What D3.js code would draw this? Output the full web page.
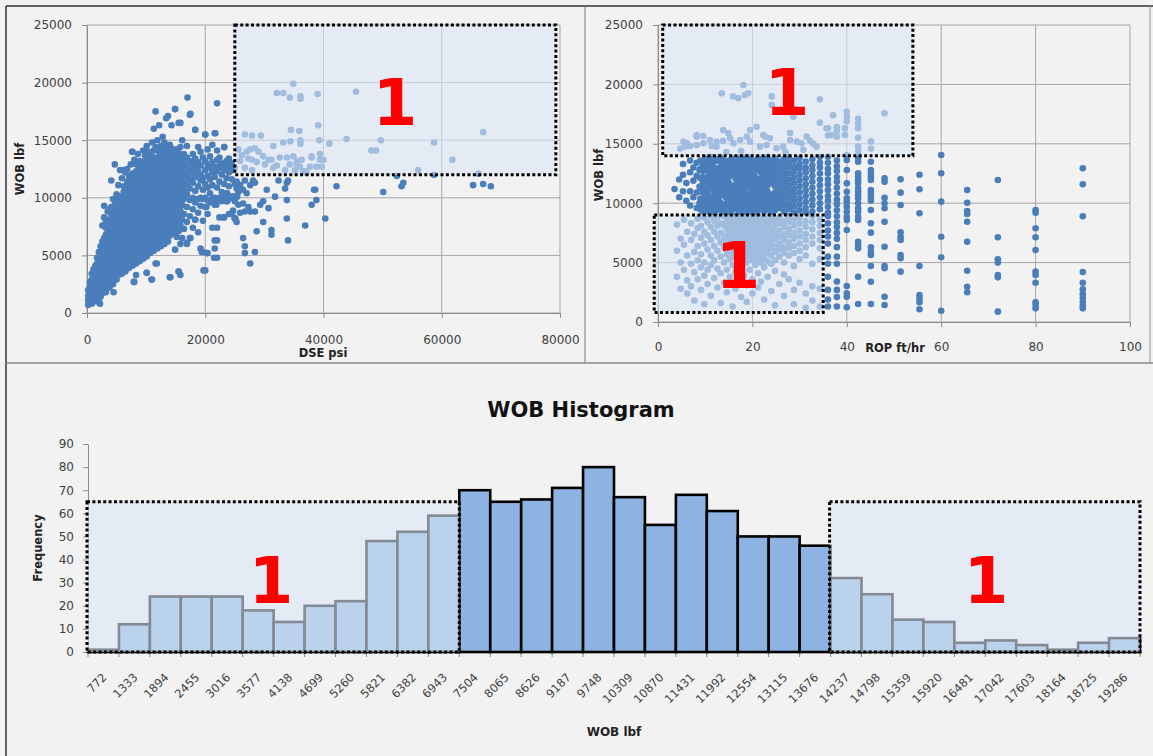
<!DOCTYPE html>
<html><head><meta charset="utf-8">
<script src="https://cdn.jsdelivr.net/npm/d3@7"></script>
<style>
body{margin:0;background:#f2f2f2}
svg{display:block}
</style>
</head><body>
<svg id="chart" width="1153" height="756"></svg>
<script>
// ---------------- DATA ----------------
const wobTicks = [0, 5000, 10000, 15000, 20000, 25000];
const dseTicks = [0, 20000, 40000, 60000, 80000];
const ropTicks = [0, 20, 40, 60, 80, 100];
const freqTicks = [0, 10, 20, 30, 40, 50, 60, 70, 80, 90];

const histBins = ["772","1333","1894","2455","3016","3577","4138","4699","5260","5821","6382","6943",
  "7504","8065","8626","9187","9748","10309","10870","11431","11992","12554","13115","13676",
  "14237","14798","15359","15920","16481","17042","17603","18164","18725","19286"];
const histFreq = [1,12,24,24,24,18,13,20,22,48,52,59,70,65,66,71,80,67,55,68,61,50,50,46,32,25,14,13,4,5,3,1,4,6];

// DSE vs WOB scatter, values in thousands (DSE kpsi, [WOB klbf ...])
const dseWobCols = [
[0.2,[0.7,1.1,1.5,2.0]],[0.5,[0.9,1.3,1.8,2.4,2.7]],[0.8,[0.8,1.2,1.6,2.2,2.9,3.4]],
[1.1,[1.0,1.4,1.9,2.5,3.1,3.8]],[1.4,[1.1,1.6,2.1,2.6,3.3,3.6,4.1]],[1.7,[1.0,1.8,2.3,2.9,3.5,4.3,4.8]],
[2.0,[1.2,2.0,2.7,3.2,3.9,4.6,5.3]],[2.3,[1.4,2.2,2.9,3.5,4.2,4.9,5.8]],[2.6,[1.7,2.5,3.1,3.7,4.4,5.2,6.2,7.6]],
[2.9,[2.0,2.6,3.4,4.0,4.7,5.5,6.5,8.3,9.3]],[3.2,[1.8,2.8,3.6,4.3,5.1,5.9,6.8,7.4,8.0]],
[3.5,[2.4,3.0,3.8,4.6,5.4,6.2,7.1,7.9,8.8]],[3.8,[2.2,3.2,4.1,4.9,5.7,6.5,7.3,8.1,9.0]],
[4.1,[2.7,3.5,4.4,5.2,6.0,6.8,7.6,8.4,9.2,11.5]],[4.4,[2.5,3.7,4.6,5.5,6.3,7.0,7.8,8.6,9.9]],
[4.7,[3.1,4.0,4.9,5.8,6.6,7.3,8.1,8.9,9.4,12.9]],[5.0,[2.9,3.6,4.5,5.3,6.1,6.9,7.7,8.4,9.2,10.3]],
[5.3,[3.3,4.2,5.0,5.9,6.7,7.4,8.2,9.0,9.8,11.1]],[5.6,[3.8,4.7,5.6,6.3,7.1,7.9,8.7,9.5,10.1,12.4]],
[5.9,[3.4,4.4,5.2,6.0,6.8,7.6,8.4,9.2,10.1,11.7]],[6.2,[4.0,4.9,5.7,6.5,7.3,8.0,8.8,9.6,10.5,11.0,12.4]],
[6.5,[3.6,4.5,5.4,6.2,7.0,7.8,8.5,9.3,10.0,10.9,12.2]],[6.8,[4.2,5.1,5.9,6.7,7.5,8.3,9.0,9.8,10.6,11.4,12.5]],
[7.1,[3.9,4.8,5.6,6.4,7.2,8.0,8.7,9.5,10.3,11.1,11.9]],[7.4,[4.4,5.3,6.1,6.9,7.7,8.5,9.2,10.0,10.8,11.6,12.9]],
[7.7,[4.1,5.0,5.8,6.6,7.4,8.2,8.9,9.7,10.5,11.3,12.1,14.0]],[8.0,[2.7,4.6,5.5,6.3,7.1,7.9,8.7,9.5,10.2,11.0,11.8,13.3]],
[8.3,[3.3,4.3,5.2,6.0,6.8,7.6,8.4,9.1,9.9,10.7,11.5,12.3,12.9]],[8.6,[4.8,5.7,6.5,7.3,8.1,8.9,9.6,10.4,11.2,12.0,13.8]],
[8.9,[4.5,5.4,6.2,7.0,7.8,8.6,9.3,10.1,10.9,11.7,12.5,13.2]],[9.2,[5.0,5.9,6.7,7.5,8.3,9.1,9.8,10.6,11.4,12.2,13.0]],
[9.5,[4.7,5.6,6.4,7.2,8.0,8.8,9.5,10.3,11.1,11.9,12.7,14.1]],[9.8,[5.3,6.1,6.9,7.7,8.5,9.3,10.0,10.8,11.6,12.4,13.2,13.7]],
[10.1,[3.5,4.9,5.8,6.6,7.4,8.2,9.0,9.7,10.5,11.3,12.1,12.9,14.5]],[10.4,[5.5,6.3,7.1,7.9,8.7,9.4,10.2,11.0,11.8,12.6,13.4,14.0]],
[10.7,[5.2,6.0,6.8,7.6,8.4,9.2,9.9,10.7,11.5,12.3,13.1,13.9]],[11.0,[2.9,5.7,6.5,7.3,8.1,8.9,9.6,10.4,11.2,12.0,12.8,13.6,14.8]],
[11.3,[5.4,6.2,7.0,7.8,8.6,9.4,10.1,10.9,11.7,12.5,13.3,14.1,16.0]],[11.6,[4.3,5.9,6.7,7.5,8.3,9.1,9.8,10.6,11.4,12.2,13.0,14.4,17.5]],
[11.9,[5.6,6.4,7.2,8.0,8.8,9.5,10.3,11.1,11.9,12.7,13.5,14.3,15.0]],[12.2,[6.1,6.9,7.7,8.5,9.3,10.0,10.8,11.6,12.4,13.2,14.0,16.3]],
[12.5,[5.8,6.6,7.4,8.2,9.0,9.7,10.5,11.3,12.1,12.9,13.7,14.5]],[12.8,[6.3,7.1,7.9,8.7,9.4,10.2,11.0,11.8,12.6,13.4,14.2,15.3]],
[13.1,[6.0,6.8,7.6,8.4,9.2,9.9,10.7,11.5,12.3,13.1,13.9,14.8]],[13.4,[6.5,7.3,8.1,8.9,9.6,10.4,11.2,12.0,12.8,13.6,14.4,16.9]],
[13.7,[6.2,7.0,7.8,8.6,9.4,10.1,10.9,11.7,12.5,13.3,14.1,17.1]],[14.0,[3.1,6.7,7.5,8.3,9.1,9.9,10.6,11.4,12.2,13.0,13.8,14.6]],
[14.3,[7.2,8.0,8.8,9.6,10.3,11.1,11.9,12.7,13.5,14.3,16.3]],[14.6,[6.9,7.7,8.5,9.3,10.1,10.8,11.6,12.4,13.2,14.0]],
[14.9,[5.5,7.4,8.2,9.0,9.8,10.5,11.3,12.1,12.9,13.7,17.7]],[15.2,[6.6,7.9,8.7,9.5,10.2,11.0,11.8,12.6,13.4,14.2]],
[15.5,[3.6,7.1,8.4,9.2,10.0,10.7,11.5,12.3,13.1,13.9,16.5]],[15.8,[3.3,6.0,7.6,8.9,9.7,10.4,11.2,12.0,12.8,13.6,14.4]],
[16.1,[6.5,8.1,9.4,10.1,10.9,11.7,12.5,13.3,15.0]],[16.4,[7.3,8.6,9.9,10.6,11.4,12.2,13.0,13.8]],
[16.9,[6.1,7.9,9.2,10.3,11.1,11.9,12.7,13.5,14.5]],[17.4,[6.5,8.4,9.8,10.8,11.6,12.4,13.2,17.2]],
[17.9,[7.4,9.0,10.0,11.3,12.1,12.9,13.8]],[18.3,[8.1,9.6,10.6,11.8,12.6,13.4,15.9]],
[18.8,[7.0,8.7,9.9,11.0,12.3,13.1,14.4]],[19.2,[5.6,9.3,10.0,11.5,12.0,12.8,14.0]],
[19.6,[5.3,8.0,9.9,10.7,11.7,13.5]],[20.0,[3.7,9.2,10.0,11.2,12.4,13.2,15.5]],
[20.4,[5.2,8.6,9.8,10.9,11.9,12.9,14.2]],[20.8,[9.6,10.4,11.6,12.6,13.6]],
[21.2,[7.4,9.9,11.1,12.2,13.1,14.6]],[21.6,[5.6,6.3,9.4,10.0,11.8,12.7,15.6]],
[22.0,[4.8,9.8,10.9,12.3,13.3,14.1,18.2]],[22.4,[8.3,10.0,11.4,12.8,13.5]],
[22.8,[9.7,10.5,12.0,12.6,13.0]],[23.2,[8.3,10.0,11.2,12.4,12.9,14.4]],
[23.6,[9.7,10.4,11.7,12.6,13.2]],[24.0,[8.6,9.9,11.0,12.2,12.8,13.4]],
[24.5,[8.6,10.1,11.6,12.4,13.0]],[25.0,[8.2,10.1,11.2,12.6]]
];
// DSE vs WOB scattered points, thousands [DSE, WOB]
const dseWobPoints = [
[17.0,18.7],[14.9,17.7],[17.5,17.3],[15.8,16.5],[21.7,15.6],[7.6,14.0],[2.2,0.8],[4.5,1.8],[7.9,2.7],[10.9,2.9],
[14.1,3.1],[15.5,3.6],[11.8,4.3],[10.1,3.5],[19.7,3.7],[20.3,5.2],[21.5,4.8],[22.0,6.3],[19.4,5.3],[16.9,6.0],
[17.5,6.5],[18.3,8.1],[20.2,9.2],[22.0,7.4],[23.1,8.3],[24.5,8.6],[25.1,8.2],[21.9,9.4],[23.7,9.7],[25.4,10.1],
[23.7,10.4],[25.9,11.1],[23.2,14.4],[20.0,15.5],[18.3,15.9],
[25.3,11.4],[26.7,11.5],[28.1,11.5],[28.4,11.3],[27.6,11.1],[25.3,10.8],[25.6,10.5],[26.4,10.7],[27.0,10.4],
[24.7,10.1],[25.0,9.7],[25.6,9.4],[26.4,9.5],[27.3,9.2],[26.7,8.8],[25.9,8.7],[24.7,8.9],[25.0,8.2],[25.3,7.9],
[27.6,8.8],[28.4,8.8],[29.3,9.4],[29.8,9.7],[30.4,10.7],[32.4,11.5],[34.0,11.5],[33.8,11.3],[31.8,10.1],[30.7,9.1],
[29.8,7.9],[28.7,7.1],[31.2,7.2],[31.2,6.8],[26.4,6.5],[26.7,5.8],[26.7,5.2],[28.4,5.3],[27.6,4.3],[33.8,9.8],
[33.8,8.2],[34.0,6.3],[36.9,7.6],[38.0,9.4],[38.6,10.7],[38.8,9.8],[40.3,8.2],[42.2,11.0],[50.1,10.5],[52.4,11.9],
[53.2,11.0],[53.5,11.3],[65.3,11.1],[67.0,11.2],[68.3,11.0],[33.5,10.8],[38.4,10.7],
[34.9,19.9],[32.1,19.1],[33.2,19.1],[34.3,18.7],[36.1,18.8],[36.1,18.6],[39.0,19.0],[45.5,19.2],[39.1,16.3],[34.5,15.9],
[35.9,15.8],[26.7,15.5],[27.9,15.4],[29.4,15.4],[31.5,14.5],[33.2,14.8],[34.4,14.9],[36.1,15.0],[36.1,14.7],[39.3,15.0],
[41.0,14.7],[43.9,15.1],[49.7,15.0],[48.1,14.1],[48.9,14.1],[56.0,12.4],[25.6,14.2],[26.2,13.7],[27.0,14.0],[27.6,14.2],
[28.4,14.3],[29.0,14.0],[29.8,13.6],[30.7,13.3],[31.2,13.3],[32.6,13.5],[33.8,13.5],[34.9,13.6],[35.5,13.2],[36.3,13.3],
[38.0,13.5],[39.4,13.8],[39.4,13.3],[25.9,13.2],[27.3,13.4],[27.9,13.3],[28.7,13.1],[30.1,12.9],[32.1,12.8],[34.3,12.9],
[35.5,12.9],[36.0,12.7],[36.9,12.3],[37.7,12.7],[38.8,12.7],[39.7,12.7],[26.7,12.6],[27.9,12.4],[31.5,12.6],[33.5,12.4],
[35.2,12.4],[58.7,12.0],[61.8,13.3],[67.0,15.7],[58.7,14.8],[66.2,12.1],[36.6,12.3],[37.1,12.2],[38.0,13.6],[40.0,13.3]
];

// ROP vs WOB scatter: [ROP ft/hr, [WOB klbf ...]]
const ropWobCols = [
// main band
[3.5,[11.2]],[4.5,[10.5,12.0]],[5.3,[11.0,12.4,13.3]],[6.0,[10.2,11.7]],[6.8,[9.8,11.0,12.6,13.6]],
[7.5,[10.5,11.9,13.0]],[8.2,[9.6,10.9,12.3,13.4]],[8.8,[10.0,11.4,12.8]],
[9.0,[9.5,10.4,11.3,12.1,12.9,13.6]],[9.5,[9.3,9.8,10.3,10.9,11.7,12.2,12.7,13.3]],
[10.1,[9.6,10.1,10.6,11.1,11.5,12.0,12.9,13.4,13.8]],[10.7,[9.3,9.8,10.3,10.7,11.2,11.7,12.2,12.6,13.1,13.6]],
[11.3,[9.5,10.0,10.5,11.4,11.9,12.4,12.8,13.3,13.9]],[11.9,[9.2,9.7,10.2,10.7,11.1,11.6,12.1,12.6,13.0,13.5]],
[12.5,[9.4,9.9,10.4,10.9,11.4,11.9,12.3,12.8,13.7]],[13.1,[9.6,10.1,10.6,11.1,11.6,12.1,12.6,13.0,13.5,13.9]],
[13.7,[9.3,9.8,10.8,11.3,11.8,12.3,12.8,13.2,13.7]],[14.4,[9.5,10.0,10.5,11.0,11.5,12.0,12.5,12.9,13.4]],
[15.0,[9.2,9.7,10.2,10.7,11.2,11.7,12.2,12.7,13.1,13.6]],[15.7,[9.4,9.9,10.4,10.9,11.4,12.4,12.9,13.3,13.8]],
[16.4,[9.6,10.1,10.6,11.1,11.6,12.1,12.6,13.0,13.5]],[17.1,[9.3,9.8,10.3,10.8,11.3,11.8,12.3,12.8,13.2,13.7]],
[17.6,[9.5,10.0,10.5,11.0,12.0,12.5,13.0,13.4,13.9]],[18.0,[9.2,9.7,10.2,10.7,11.2,11.7,12.2,12.7,13.1,13.6]],
[18.5,[9.4,9.9,10.4,10.9,11.4,11.9,12.4,12.9,13.3]],[18.9,[9.6,10.1,10.6,11.6,12.1,12.6,13.1,13.5,13.9]],
[19.5,[9.3,9.8,10.3,10.8,11.3,11.8,12.3,12.8,13.2,13.7]],[20.0,[9.5,10.0,10.5,11.0,11.5,12.0,12.5,13.0,13.4]],
[20.6,[9.2,9.7,10.2,10.7,11.2,11.7,12.2,12.7,13.1,13.6]],[21.2,[9.4,9.9,10.4,10.9,11.4,11.9,12.9,13.3,13.8]],
[21.8,[9.6,10.1,10.6,11.1,11.6,12.1,12.6,13.0,13.5]],[22.5,[9.3,9.8,10.3,10.8,11.3,11.8,12.3,12.8,13.2,13.7]],
[23.2,[9.5,10.0,10.5,11.0,11.5,12.0,12.5,13.0,13.4,13.9]],[24.0,[9.2,9.7,10.2,10.7,11.7,12.2,12.7,13.1,13.6]],
[24.8,[9.4,9.9,10.4,10.9,11.4,11.9,12.4,12.9,13.3,13.8]],[25.7,[9.6,10.1,10.6,11.1,11.6,12.1,12.6,13.0,13.5]],
[26.7,[9.3,9.8,10.3,10.8,11.3,11.8,12.3,12.8,13.2,13.7]],[27.7,[9.5,10.0,10.5,11.0,11.5,12.0,12.5,13.0,13.4,13.9]],
[28.8,[9.2,9.7,10.2,10.7,11.2,11.7,12.2,12.7,13.1,13.6]],[30.0,[9.4,9.9,10.4,10.9,11.4,11.9,12.4,12.9,13.3,13.8]],
[31.3,[9.2,9.6,10.1,10.6,11.1,11.6,12.1,12.6,13.0,13.5]],[32.7,[9.3,9.8,10.3,10.8,11.3,11.8,12.3,12.8,13.2,13.7]],
[34.3,[9.5,10.0,10.5,11.0,11.5,12.0,12.5,13.0,13.4,13.9]],
[36.0,[9.2,9.7,10.2,10.6,11.1,11.6,12.0,12.5,12.9,13.4,13.9,8.9,8.3,7.7,7.2,6.6,5.5,4.9,3.8,2.7,1.9,1.3,16.3,15.7]],
[37.9,[9.4,9.9,10.3,10.8,11.3,11.8,12.2,12.7,13.1,13.6,8.9,8.4,8.0,7.5,7.0,6.3,5.5,4.9,3.4,2.7,2.1,1.3,16.4,16.1,15.6]],
// discrete high-ROP columns
[40.0,[14.06,13.64,12.79,11.67,10.97,10.41,10.13,9.71,9.29,8.86,8.59,7.74,3.03,2.42,2.13,1.24,17.7,17.3,16.9]],
[42.4,[14.76,14.34,13.78,13.49,12.52,12.23,11.95,11.67,11.25,10.97,10.69,10.41,9.99,9.57,9.29,8.86,8.59,6.76,6.48,6.2,3.81,1.52,17.1,16.7,16.3,15.5]],
[45.1,[13.49,12.79,12.52,12.23,11.95,11.11,10.83,10.49,10.21,9.43,8.31,7.52,6.29,5.92,5.64,4.71,3.39,1.52,15.2,14.6]],
[48.0,[12.1,11.81,10.46,9.99,9.57,8.44,6.34,4.71,4.52,2.13,1.43,17.57]],
[51.4,[12.01,10.89,9.85,7.55,7.18,6.9,5.64,5.36,4.24]],
[55.4,[12.4,11.17,9.15,4.71,2.27,2.0,1.66,1.07]],
[60.0,[14.06,12.52,10.13,7.18,5.45,0.95]],
[65.5,[11.11,10.04,9.34,9.09,8.44,6.76,4.32,2.97,2.5]],
[72.0,[11.95,7.13,5.28,5.0,3.96,3.76,0.87]],
[80.0,[9.43,9.2,7.89,7.13,6.06,4.24,3.96,3.31,1.66,1.43,1.15]],
[90.0,[12.94,11.59,8.9,4.21,3.31,2.75,2.36,2.04,1.71,1.37,1.15]],
// low-WOB region
[4.0,[8.2,6.0,3.8]],[4.8,[7.0,5.0,2.8]],[5.5,[8.6,6.5,4.4]],[6.2,[7.6,5.6,3.5,2.4]],[7.0,[8.3,6.9,4.9,3.0]],
[7.7,[7.4,5.9,4.2,1.8]],[8.4,[8.7,7.9,6.4,5.2,3.6]],[9.1,[8.1,7.1,5.7,4.6,2.7]],[9.8,[8.8,7.6,6.6,5.0,3.9,1.5]],
[10.5,[8.4,7.3,6.1,4.4,3.2]],[11.2,[8.9,8.0,6.9,5.6,4.8,2.2]],[11.9,[8.5,7.6,6.4,5.2,3.7]],
[12.6,[8.8,8.1,7.2,6.0,4.5,2.9]],[13.3,[8.3,7.5,6.7,5.5,4.1,1.6]],[14.0,[8.9,8.1,7.0,6.3,5.0,3.3]],
[14.6,[8.5,7.8,7.3,6.6,5.7,4.4,2.5]],[15.2,[8.8,8.2,7.6,6.9,6.1,5.3,3.8]],[15.8,[8.4,7.9,7.2,6.5,5.8,4.8,1.3]],
[16.4,[8.9,8.3,7.7,7.0,6.3,5.5,4.2,2.8]],[17.0,[8.6,8.0,7.4,6.7,6.0,5.1,3.5]],[17.6,[8.8,8.2,7.6,7.1,6.4,5.7,4.6,2.1]],
[18.2,[8.5,7.9,7.3,6.8,6.1,5.4,3.9]],[18.8,[8.9,8.3,7.7,7.1,6.5,5.8,5.0,3.1,1.7]],[19.4,[8.6,8.0,7.4,6.9,6.2,5.5,4.4]],
[20.0,[8.8,8.2,7.7,7.1,6.6,5.9,5.2,3.6,2.4]],[20.6,[8.5,7.9,7.4,6.8,6.3,5.6,4.8]],[21.2,[8.9,8.3,7.8,7.2,6.7,6.0,5.3,4.1,2.9]],
[21.8,[8.6,8.1,7.5,7.0,6.4,5.7,5.0,3.4]],[22.5,[8.8,8.3,7.7,7.2,6.6,6.1,5.4,4.6,1.9]],[23.2,[8.5,8.0,7.4,6.9,6.3,5.8,5.1,3.8]],
[24.0,[8.9,8.4,7.8,7.3,6.7,6.2,5.6,4.9,2.6]],[24.8,[8.6,8.1,7.5,7.0,6.4,5.9,5.2,4.3,1.4]],[25.7,[8.8,8.3,7.7,7.2,6.6,6.1,5.5,3.2]],
[26.7,[8.5,8.0,7.4,6.9,6.3,5.8,5.0,4.0,2.2]],[27.7,[8.9,8.4,7.8,7.3,6.7,6.2,5.6,3.6]],[28.8,[8.6,8.1,7.5,7.0,6.4,5.8,4.7,2.7,1.5]],
[30.0,[8.8,8.3,7.7,7.2,6.6,6.0,5.3,3.3]],[31.3,[8.5,8.0,7.4,6.9,6.3,5.6,2.4,1.2]],[32.7,[8.9,8.4,7.8,7.2,6.6,4.9,3.0,1.8]],
[34.3,[8.6,8.1,7.5,6.9,6.2,5.3,2.8,1.3]]
];
// high-WOB scattered points [ROP, WOB klbf]
const ropWobPoints = [
[18.1,19.95],[13.5,19.25],[15.9,18.99],[17.0,18.83],[18.4,19.1],[19.1,19.25],[24.1,18.99],[24.1,18.26],[34.3,18.74],
[28.7,17.28],[34.3,16.78],[36.8,15.74],[39.6,16.3],[39.6,15.74],[8.2,15.74],[9.6,15.66],[5.4,15.18],[6.1,15.04],
[11.0,15.32],[12.4,15.18],[13.8,15.26],[15.3,15.46],[16.0,15.04],[17.4,15.32],[18.8,15.6],[19.5,15.18],[22.7,15.6],
[23.7,15.46],[28.0,15.32],[29.4,15.18],[30.4,15.04],[32.2,15.26],[14.9,15.88],[13.8,16.16],[19.5,16.16],[20.9,16.44],
[5.7,14.76],[6.8,14.82],[8.2,14.9],[9.6,15.04],[11.4,14.82],[12.4,14.76],[21.6,14.76],[23.0,14.9],[25.1,14.62],
[26.5,14.76],[37.1,17.4],[35.7,16.3],[8.2,15.6],[28.0,15.9],[31.5,15.6],[32.9,15.0],[33.6,14.76],[22.3,15.74],
[4.7,14.6],[17.6,14.4],[27.0,14.3],[30.8,14.5],[14.5,14.3]
];

// highlighted regions ("1")
const dseRegion = {x0: 25000, x1: 79300, y0: 12000, y1: 25000};
const ropRegions = [{x0: 1, x1: 54, y0: 14000, y1: 25000}, {x0: -0.8, x1: 35, y0: 800, y1: 9000}];
const histRegions = [{from: "772", to: "6943", top: 65}, {from: "14237", to: "19286", top: 65}];

// ---------------- DRAWING ----------------
const svg = d3.select("#chart");
const FONT = "DejaVu Sans, sans-serif";
const PT = "#4a7ebb", OVER = "#dae6f5", OVER_OP = 0.6;

// panel frames
const frame = svg.append("g").attr("fill", "none");
frame.append("line").attr("x1",6).attr("y1",6).attr("x2",1153).attr("y2",6).attr("stroke","#333").attr("stroke-width",1.5);
frame.append("line").attr("x1",6).attr("y1",6).attr("x2",6).attr("y2",756).attr("stroke","#333").attr("stroke-width",1.5);
frame.append("line").attr("x1",585).attr("y1",6).attr("x2",585).attr("y2",363).attr("stroke","#777");
frame.append("line").attr("x1",1150).attr("y1",6).attr("x2",1150).attr("y2",363).attr("stroke","#999");
frame.append("line").attr("x1",6).attr("y1",363).attr("x2",1153).attr("y2",363).attr("stroke","#888").attr("stroke-width",1.5);

function styleAxis(sel, size) {
  sel.attr("font-family", null).attr("font-size", null);
  sel.select(".domain").attr("stroke", "#8c8c8c");
  sel.selectAll(".tick line").attr("stroke", "#8c8c8c");
  sel.selectAll(".tick text").attr("fill", "#404040").style("font-family", FONT).style("font-size", size + "px");
}

function bigOne(g, cx, baseY) {
  g.append("text").attr("x", cx).attr("y", baseY).attr("text-anchor", "middle")
    .style("font-family", "DejaVu Sans, sans-serif").style("font-weight", "bold").style("font-size", "64px")
    .attr("fill", "#ff0000").text("1");
}

function region(g, x0, x1, y0, y1) {
  g.append("rect").attr("x", x0).attr("y", y0).attr("width", x1 - x0).attr("height", y1 - y0)
    .attr("fill", OVER).attr("fill-opacity", OVER_OP);
  g.append("rect").attr("x", x0).attr("y", y0).attr("width", x1 - x0).attr("height", y1 - y0)
    .attr("fill", "none").attr("stroke", "#000").attr("stroke-width", 3).attr("stroke-dasharray", "3,2.4");
}

function scatter(o) {
  const g = svg.append("g");
  const x = d3.scaleLinear().domain(o.xDomain).range(o.xRange);
  const y = d3.scaleLinear().domain([0, 25000]).range(o.yRange);
  g.append("g").selectAll("line").data(o.xTicks).join("line")
    .attr("x1", d => x(d)).attr("x2", d => x(d)).attr("y1", y(0)).attr("y2", y(25000))
    .attr("stroke", "#a6a6a6");
  g.append("g").selectAll("line").data(wobTicks).join("line")
    .attr("x1", x(o.xDomain[0])).attr("x2", x(o.xDomain[1])).attr("y1", d => y(d)).attr("y2", d => y(d))
    .attr("stroke", "#a6a6a6");
  g.append("g").attr("transform", `translate(0,${y(0)})`)
    .call(d3.axisBottom(x).tickValues(o.xTicks).tickSizeInner(5).tickSizeOuter(0).tickPadding(o.xPad).tickFormat(d3.format("d")))
    .call(s => styleAxis(s, 12));
  g.append("g").attr("transform", `translate(${x(0)},0)`)
    .call(d3.axisLeft(y).tickValues(wobTicks).tickSizeInner(5).tickSizeOuter(0).tickPadding(10).tickFormat(d3.format("d")))
    .call(s => styleAxis(s, 12));
  g.append("g").selectAll("circle").data(o.points).join("circle")
    .attr("cx", d => x(d[0])).attr("cy", d => y(d[1])).attr("r", 3.3).attr("fill", PT);
  o.regions.forEach(r => region(g, x(r.x0), x(r.x1), y(r.y1), y(r.y0)));
  o.ones.forEach(p => bigOne(g, p[0], p[1]));
  g.append("text").attr("x", o.xTitle[0]).attr("y", o.xTitle[1]).attr("text-anchor", "middle")
    .style("font-family", FONT).style("font-weight", "bold").style("font-size", "11.5px").attr("fill", "#222").text(o.xLabel);
  g.append("text").attr("transform", `translate(${o.yTitle[0]},${o.yTitle[1]}) rotate(-90)`).attr("text-anchor", "middle")
    .style("font-family", FONT).style("font-weight", "bold").style("font-size", "11.5px").attr("fill", "#222").text("WOB lbf");
}

const leftPts = dseWobCols.flatMap(([xv, ys]) => ys.map(v => [xv * 1000, v * 1000]))
  .concat(dseWobPoints.map(([a, b]) => [a * 1000, b * 1000]));
scatter({
  xDomain: [0, 80000], xRange: [87, 560], yRange: [313, 25], xTicks: dseTicks, xPad: 17,
  points: leftPts, regions: [dseRegion], ones: [[395, 125]],
  xLabel: "DSE psi", xTitle: [323, 357], yTitle: [24, 169]
});

const rightPts = ropWobCols.flatMap(([xv, ys]) => ys.map(v => [xv, v * 1000]))
  .concat(ropWobPoints.map(([a, b]) => [a, b * 1000]));
scatter({
  xDomain: [0, 100], xRange: [658, 1130], yRange: [322, 25], xTicks: ropTicks, xPad: 15,
  points: rightPts, regions: ropRegions, ones: [[787, 115], [738, 288]],
  xLabel: "ROP ft/hr", xTitle: [895, 352], yTitle: [603, 175]
});

// ---------------- HISTOGRAM ----------------
(function () {
  const g = svg.append("g");
  const x = d3.scaleBand().domain(histBins).range([88, 1140]).padding(0);
  const y = d3.scaleLinear().domain([0, 90]).range([652, 444]);
  const bw = x.bandwidth();
  g.append("text").attr("x", 581).attr("y", 417).attr("text-anchor", "middle")
    .style("font-family", FONT).style("font-weight", "bold").style("font-size", "21px").attr("fill", "#111")
    .text("WOB Histogram");
  const ya = g.append("g").attr("transform", "translate(88,0)")
    .call(d3.axisLeft(y).tickValues(freqTicks).tickSizeInner(5).tickSizeOuter(0).tickPadding(9));
  styleAxis(ya, 12);
  g.append("line").attr("x1", 88).attr("x2", 1140).attr("y1", 652).attr("y2", 652).attr("stroke", "#8c8c8c");
  g.append("g").selectAll("line").data(histBins.concat(["__end"])).join("line")
    .attr("x1", (d, i) => 88 + i * bw).attr("x2", (d, i) => 88 + i * bw)
    .attr("y1", 652).attr("y2", 657).attr("stroke", "#8c8c8c");
  g.append("g").selectAll("rect").data(histBins).join("rect")
    .attr("x", d => x(d)).attr("width", bw)
    .attr("y", (d, i) => y(histFreq[i])).attr("height", (d, i) => y(0) - y(histFreq[i]))
    .attr("fill", "#8db3e2").attr("stroke", "#000").attr("stroke-width", 2.6);
  g.append("g").selectAll("text").data(histBins).join("text")
    .attr("transform", d => `translate(${x(d) + bw / 2 + 4},678) rotate(-45)`)
    .attr("text-anchor", "end").style("font-family", FONT).style("font-size", "11.5px").attr("fill", "#404040")
    .text(d => d);
  histRegions.forEach(r => region(g, x(r.from) - 1, x(r.to) + bw, y(r.top), y(0)));
  bigOne(g, 271, 603);
  bigOne(g, 986, 603);
  g.append("text").attr("x", 614).attr("y", 736).attr("text-anchor", "middle")
    .style("font-family", FONT).style("font-weight", "bold").style("font-size", "12px").attr("fill", "#222").text("WOB lbf");
  g.append("text").attr("transform", "translate(42,548) rotate(-90)").attr("text-anchor", "middle")
    .style("font-family", FONT).style("font-weight", "bold").style("font-size", "11.5px").attr("fill", "#222").text("Frequency");
})();
</script>
</body></html>
